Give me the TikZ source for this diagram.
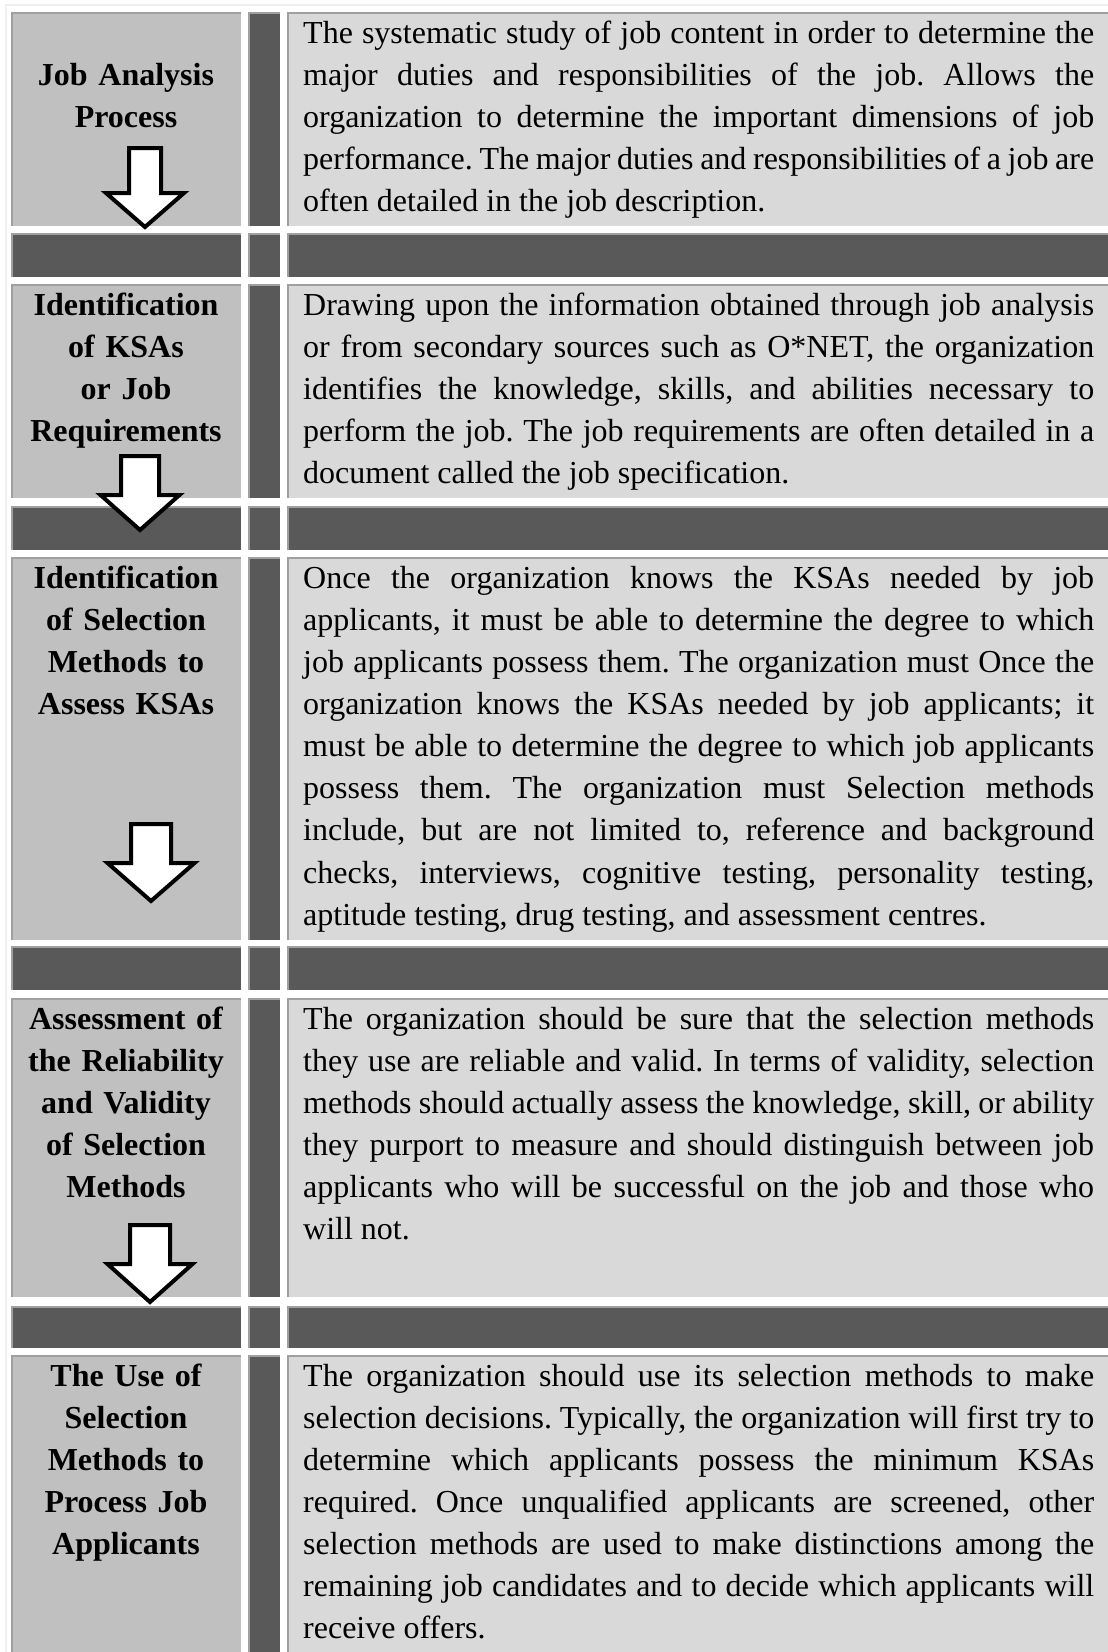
\documentclass[tikz,border=0pt]{standalone}
\usepackage{fontspec}
\setmainfont{Liberation Serif}
\frenchspacing

\definecolor{labelgray}{HTML}{C0C0C0}
\definecolor{textgray}{HTML}{D9D9D9}
\definecolor{bargray}{HTML}{595959}
\definecolor{edgegray}{HTML}{A0A0A0}
\definecolor{framegray}{HTML}{EFEFEF}

\tikzset{
  labelcell/.style={fill=labelgray},
  textcell/.style={fill=textgray},
  barcell/.style={fill=bargray},
  celledge/.style={draw=edgegray, line width=2pt},
  blockarrow/.style={draw=black, fill=white, line width=4pt, miter limit=10},
  labeltext/.style={inner sep=0pt, text width=230pt, align=center, anchor=base,
    font=\fontsize{32}{42.1}\selectfont\bfseries},
  desctext/.style={inner sep=0pt, text width=791pt, align=justify, anchor=base west,
    font=\fontsize{32}{42.1}\selectfont},
}

% centre x, shaft top, shoulder, tip, half shaft, half head
\newcommand{\downblock}[6]{%
  \draw[blockarrow] (#1-#5,#2) -- (#1+#5,#2) -- (#1+#5,#3) -- (#1+#6,#3)
    -- (#1,#4) -- (#1-#6,#3) -- (#1-#5,#3) -- cycle;}

\begin{document}
\begin{tikzpicture}[x=1pt,y=-1pt]
\clip (0,0) rectangle (1108,1652);
\fill[white] (0,0) rectangle (1108,1652);
\draw[framegray, line width=2pt] (6,1660) |- (1110,5);

% step rows
\foreach \ya/\yb in {12/226, 284/498, 557/940, 998/1297, 1355/1660} {
  \fill[labelcell] (11,\ya) rectangle (241,\yb);
  \fill[barcell] (248,\ya) rectangle (280,\yb);
  \fill[textcell] (287,\ya) rectangle (1110,\yb);
  \foreach \xa/\xb in {11/241, 248/280, 287/1110}
    \draw[celledge] (\xa+1,\yb) |- (\xb,\ya+1);
}
% separator rows
\foreach \ya/\yb in {233/277, 506/550, 946/990, 1306/1348} {
  \foreach \xa/\xb in {11/241, 248/280, 287/1110} {
    \fill[barcell] (\xa,\ya) rectangle (\xb,\yb);
    \draw[celledge] (\xa+1,\yb) |- (\xb,\ya+1);
  }
}

% arrows
\downblock{145}{148}{193}{227}{16}{39}
\downblock{140}{456}{495}{530}{19}{39.5}
\downblock{151}{824}{863}{901}{20}{43.5}
\downblock{150}{1225}{1264}{1302}{20}{42.5}

% step names
\node[labeltext] (label1) at (126,85.4) {Job Analysis\\Process};
\node[labeltext] (label2) at (126,315.3) {Identification\\of KSAs\\or Job\\Requirements};
\node[labeltext] (label3) at (126,588.3) {Identification\\of Selection\\Methods to\\Assess KSAs};
\node[labeltext] (label4) at (126,1029) {Assessment of\\the Reliability\\and Validity\\of Selection\\Methods};
\node[labeltext] (label5) at (126,1386) {The Use of\\Selection\\Methods to\\Process Job\\Applicants};

% descriptions
\node[desctext] (desc1) at (303,43.3) {The systematic study of job content in order to determine the\linebreak
major duties and responsibilities of the job. Allows the\linebreak
organization to determine the important dimensions of job\linebreak
performance. The major duties and responsibilities of a job are\linebreak
often detailed in the job description.};
\node[desctext] (desc2) at (303,315.3) {Drawing upon the information obtained through job analysis\linebreak
or from secondary sources such as O*NET, the organization\linebreak
identifies the knowledge, skills, and abilities necessary to\linebreak
perform the job. The job requirements are often detailed in a\linebreak
document called the job specification.};
\node[desctext] (desc3) at (303,588.3) {Once the organization knows the KSAs needed by job\linebreak
applicants, it must be able to determine the degree to which\linebreak
job applicants possess them. The organization must Once the\linebreak
organization knows the KSAs needed by job applicants; it\linebreak
must be able to determine the degree to which job applicants\linebreak
possess them. The organization must Selection methods\linebreak
include, but are not limited to, reference and background\linebreak
checks, interviews, cognitive testing, personality testing,\linebreak
aptitude testing, drug testing, and assessment centres.};
\node[desctext] (desc4) at (303,1029) {The organization should be sure that the selection methods\linebreak
they use are reliable and valid. In terms of validity, selection\linebreak
methods should actually assess the knowledge, skill, or ability\linebreak
they purport to measure and should distinguish between job\linebreak
applicants who will be successful on the job and those who\linebreak
will not.};
\node[desctext] (desc5) at (303,1386) {The organization should use its selection methods to make\linebreak
selection decisions. Typically, the organization will first try to\linebreak
determine which applicants possess the minimum KSAs\linebreak
required. Once unqualified applicants are screened, other\linebreak
selection methods are used to make distinctions among the\linebreak
remaining job candidates and to decide which applicants will\linebreak
receive offers.};
\end{tikzpicture}
\end{document}
